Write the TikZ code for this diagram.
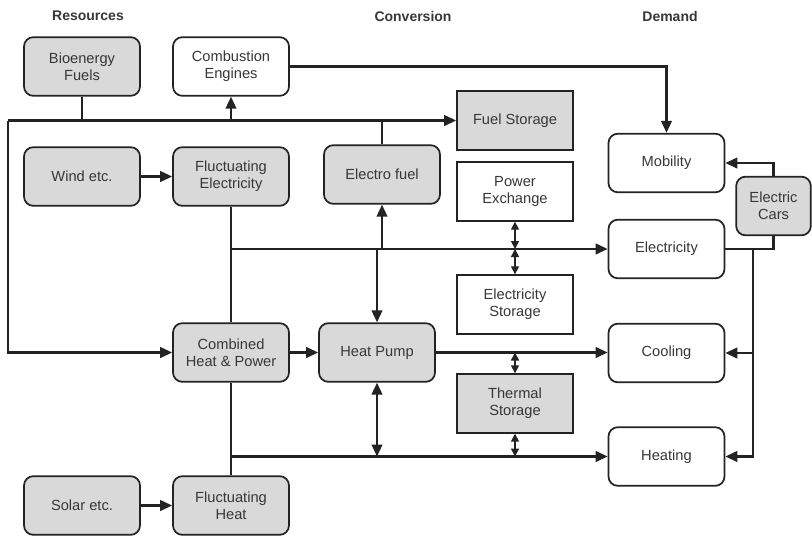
\documentclass[tikz,border=0pt]{standalone}
\usepackage{fontspec}
\setmainfont{Liberation Sans}
\usetikzlibrary{arrows.meta}
\definecolor{boxGray}{RGB}{217,217,217}
\definecolor{lineDark}{RGB}{35,35,35}
\definecolor{textDark}{RGB}{55,55,55}

\begin{document}
\begin{tikzpicture}[x=0.75pt, y=-0.75pt, >={Triangle[length=9pt,width=8pt]},
  unitnode/.style={rounded corners=7pt, draw=lineDark, line width=1.3pt, align=center,
     minimum width=87pt, minimum height=44pt, inner sep=1pt, font=\fontsize{11}{13}\selectfont, text=textDark},
  storenode/.style={unitnode, rounded corners=0pt},
  headnode/.style={font=\fontsize{10.5}{12}\selectfont\bfseries, text=textDark},
  link/.style={line width=1.6pt, lineDark},
  flow/.style={->, link},
  swap/.style={{Triangle[length=6pt,width=6pt]}-{Triangle[length=6pt,width=6pt]}, line width=1.2pt, lineDark},
  bigswap/.style={<->, link}]
  \useasboundingbox (0,0) rectangle (812,535);
  % column headings
  \node[headnode] (hres) at (88,16)  {Resources};
  \node[headnode] (hcon) at (413,16) {Conversion};
  \node[headnode] (hdem) at (670,16) {Demand};
  % resources
  \node[unitnode, fill=boxGray] (bio)   at (82,66.5)  {Bioenergy\\Fuels};
  \node[unitnode, fill=boxGray] (wind)  at (82,176.5) {Wind etc.};
  \node[unitnode, fill=boxGray] (solar) at (82,505.5) {Solar etc.};
  % conversion
  \node[unitnode, fill=white]   (comb)  at (231,66.5)  {Combustion\\Engines};
  \node[unitnode, fill=boxGray] (flel)  at (231,176.5) {Fluctuating\\Electricity};
  \node[unitnode, fill=boxGray] (chp)   at (231,352.5) {Combined\\Heat \& Power};
  \node[unitnode, fill=boxGray] (flht)  at (231,505.5) {Fluctuating\\Heat};
  \node[unitnode, fill=boxGray] (efuel) at (382,174.5) {Electro fuel};
  \node[unitnode, fill=boxGray] (hp)    at (377,352.5) {Heat Pump};
  \node[storenode, fill=boxGray] (fuelst) at (515,120.5) {Fuel Storage};
  \node[storenode, fill=white]   (pex)    at (515,191.5) {Power\\Exchange};
  \node[storenode, fill=white]   (elst)   at (515,304.5) {Electricity\\Storage};
  \node[storenode, fill=boxGray] (thst)   at (515,403.5) {Thermal\\Storage};
  % demand
  \node[unitnode, fill=white]   (mob)  at (666.5,163)   {Mobility};
  \node[unitnode, fill=white]   (elec) at (666.5,249)   {Electricity};
  \node[unitnode, fill=white]   (cool) at (666.5,353)   {Cooling};
  \node[unitnode, fill=white]   (heat) at (666.5,456.5) {Heating};
  \node[unitnode, fill=boxGray, minimum width=56pt] (cars) at (773.5,206) {Electric\\Cars};
  % fuel line
  \coordinate (lt) at (8,120.5);
  \draw[link] (bio) -- (bio |- lt);
  \draw[link] (efuel) -- (efuel |- lt);
  \draw[flow] (lt) -- (fuelst.west);
  \draw[flow] (lt) |- (chp.west);
  \draw[flow] (comb |- lt) -- (comb);
  \draw[flow] (comb.east) -| (mob.north);
  % electricity
  \draw[flow] (wind) -- (flel);
  \draw[link] (flel) -- (chp);
  \draw[flow] (flel |- elec) -- (elec);
  \draw[flow] (efuel |- elec) -- (efuel);
  \draw[flow] (hp |- elec) -- (hp);
  \draw[swap] (pex) -- (pex |- elec);
  \draw[swap] (elst) -- (elst |- elec);
  % heat
  \draw[flow] (chp) -- (hp);
  \draw[flow] (hp.east) -- (hp.east -| cool.west);
  \draw[swap] (thst) -- (thst |- hp);
  \draw[link] (flht) -- (chp);
  \draw[flow] (solar) -- (flht);
  \draw[flow] (flht |- heat) -- (heat);
  \draw[bigswap] (hp) -- (hp |- heat);
  \draw[swap] (thst) -- (thst |- heat);
  % demand side
  \coordinate (dr) at (753,249);
  \draw[link] (elec.east) -| (cars.south);
  \draw[flow] (cars.north) |- (mob.east);
  \draw[flow] (dr) |- (heat.east);
  \draw[flow] (dr |- cool) -- (cool.east);
\end{tikzpicture}
\end{document}
